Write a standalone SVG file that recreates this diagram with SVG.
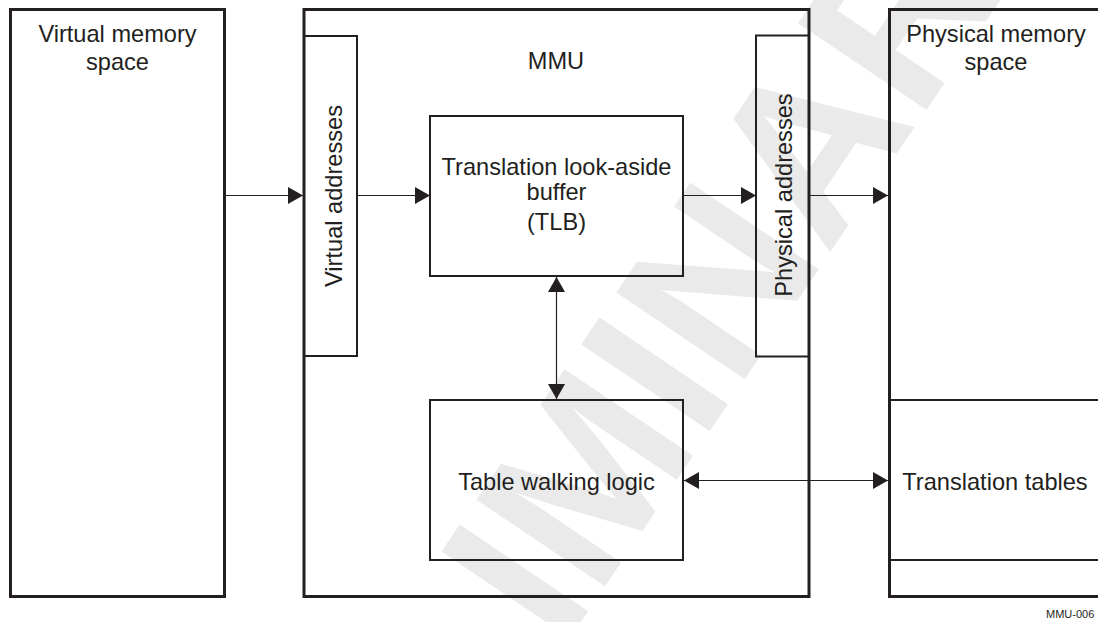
<svg xmlns="http://www.w3.org/2000/svg" width="1098" height="622" viewBox="0 0 1098 622">
  <style>
    .outer { fill: none; stroke: #231f20; stroke-width: 3; }
    .inner { fill: none; stroke: #231f20; stroke-width: 2; }
    .conn { fill: none; stroke: #231f20; stroke-width: 1.2; }
    .lbl { font-family: "Liberation Sans", Arial, sans-serif; font-size: 23.6px; fill: #231f20; text-anchor: middle; }
    .small { font-family: "Liberation Sans", Arial, sans-serif; font-size: 11px; fill: #231f20; }
    .wm { font-family: "Liberation Sans", Arial, sans-serif; font-size: 225px; font-weight: bold; fill: #eaeaea; text-anchor: middle; }
  </style>
  <defs>
    <marker id="arr" markerUnits="userSpaceOnUse" markerWidth="15" markerHeight="17" refX="15" refY="8.5" orient="auto-start-reverse" viewBox="0 0 15 17">
      <path d="M0,0 L15,8.5 L0,17 Z" fill="#231f20"/>
    </marker>
  </defs>
  <rect width="1098" height="622" fill="#ffffff"/>
  <text class="wm" transform="translate(657,509) rotate(-56)">PRELIMINARY</text>

  <g id="virtual-memory">
    <rect class="outer" x="10.5" y="9.5" width="214" height="587"/>
    <text class="lbl" x="117.5" y="41.5">Virtual memory</text>
    <text class="lbl" x="117.5" y="69.5">space</text>
  </g>

  <g id="mmu">
    <rect class="outer" x="304" y="9.5" width="505" height="587"/>
    <text class="lbl" x="556" y="68.5">MMU</text>
  </g>

  <g id="virtual-addresses">
    <rect class="inner" x="304" y="36" width="53" height="320"/>
    <text class="lbl" transform="translate(341.5,196) rotate(-90)">Virtual addresses</text>
  </g>

  <g id="tlb">
    <rect class="inner" x="430" y="116" width="253" height="160"/>
    <text class="lbl" x="556.5" y="175">Translation look-aside</text>
    <text class="lbl" x="556.5" y="200">buffer</text>
    <text class="lbl" x="556.5" y="230">(TLB)</text>
  </g>

  <g id="physical-addresses">
    <rect class="inner" x="756" y="35.5" width="53" height="321"/>
    <text class="lbl" transform="translate(791.5,195) rotate(-90)">Physical addresses</text>
  </g>

  <g id="table-walking-logic">
    <rect class="inner" x="430" y="400" width="253" height="160"/>
    <text class="lbl" x="556.5" y="490">Table walking logic</text>
  </g>

  <g id="physical-memory">
    <rect class="outer" x="889.5" y="9.5" width="220" height="587"/>
    <text class="lbl" x="996" y="41.5">Physical memory</text>
    <text class="lbl" x="996" y="69.5">space</text>
  </g>

  <g id="translation-tables">
    <line class="inner" x1="889" y1="400" x2="1098" y2="400"/>
    <line class="inner" x1="889" y1="560" x2="1098" y2="560"/>
    <text class="lbl" x="995" y="490">Translation tables</text>
  </g>

  <g id="connectors">
    <line class="conn" x1="225" y1="195.5" x2="303" y2="195.5" marker-end="url(#arr)"/>
    <line class="conn" x1="357" y1="195.5" x2="430" y2="195.5" marker-end="url(#arr)"/>
    <line class="conn" x1="683" y1="195.5" x2="756" y2="195.5" marker-end="url(#arr)"/>
    <line class="conn" x1="809" y1="195.5" x2="888" y2="195.5" marker-end="url(#arr)"/>
    <line class="conn" x1="556.5" y1="277" x2="556.5" y2="399" marker-start="url(#arr)" marker-end="url(#arr)"/>
    <line class="conn" x1="684" y1="480.5" x2="888" y2="480.5" marker-start="url(#arr)" marker-end="url(#arr)"/>
  </g>

  <text class="small" x="1046" y="618">MMU-006</text>
</svg>
